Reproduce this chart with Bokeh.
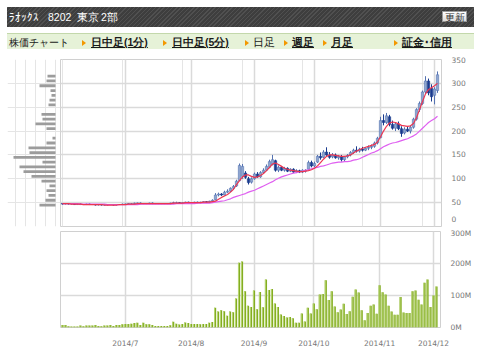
from bokeh.plotting import figure
from bokeh.layouts import column, row
from bokeh.models import Range1d, FixedTicker, Grid, ColumnDataSource, Div
from bokeh.transform import dodge
from bokeh.embed import file_html
from bokeh.resources import INLINE

# ---------------- data ----------------
title_parts = ["ﾗｵｯｸｽ", "8202", "東京", "2部"]
button_label = "更新"
nav_plain = "株価チャート"
nav_links = ["日中足(1分)", "日中足(5分)", "日足", "週足", "月足", "証金･信用"]
nav_active = [True, True, False, True, True, True]

# daily OHLC, 2014-06-02 .. 2014-12-02 (trading days)
open_ = [48,47,48,47,47,46,47,46,46,47,46,46,45,46,45,45,46,46,45,46,46,
         47,47,48,48,49,49,48,48,48,49,48,48,48,48,48,48,49,50,50,49,50,51,
         50,50,51,50,51,52,51,53,56,66,68,66,72,74,80,85,96,105,112,100,93,
         100,110,104,113,118,124,130,138,118,124,118,122,116,120,114,117,114,116,120,134,
         127,135,147,145,156,150,146,150,144,146,140,146,150,155,160,158,162,160,164,166,168,175,
         186,222,218,230,214,206,215,205,196,204,200,208,225,245,258,282,305,290,
         275,285]
high = [49,49,49,48,48,48,48,47,48,48,47,47,47,47,46,47,47,47,47,47,48,
        48,49,49,50,50,50,49,49,50,50,49,49,49,49,49,50,52,52,51,51,52,52,
        51,52,52,52,53,53,54,57,70,71,70,75,78,82,87,98,132,131,116,104,103,
        113,114,116,122,130,140,150,140,128,127,125,124,122,122,120,119,120,120,138,138,
        136,150,155,160,166,156,154,153,150,150,148,152,158,163,168,165,167,166,170,172,178,188,
        230,235,238,234,222,218,220,210,208,210,212,228,248,262,285,315,310,298,
        292,325]
low = [46,46,46,46,45,45,45,45,45,45,45,44,44,44,44,44,45,44,44,45,45,
       46,46,47,47,48,47,47,47,47,47,47,47,47,47,47,47,48,49,48,48,49,49,
       49,49,49,49,50,50,50,52,55,63,64,65,70,72,78,83,95,100,100,88,90,
       98,102,102,110,116,122,128,115,114,116,115,114,114,112,112,112,112,113,119,124,
       124,133,140,143,148,142,143,142,140,136,137,143,147,152,155,155,157,158,160,162,165,172,
       185,212,215,210,203,200,202,188,193,198,195,205,222,240,255,278,275,262,
       256,280]
close = [47,48,47,47,46,47,46,46,47,46,46,45,46,45,45,46,46,45,46,46,47,
         47,48,48,49,49,48,48,48,49,48,48,48,48,48,48,49,50,50,49,50,51,50,
         50,51,50,51,52,51,53,55,66,68,66,72,74,80,84,95,128,126,103,92,100,
         110,104,113,118,126,136,140,118,124,118,122,116,120,114,117,114,118,118,134,127,
         132,147,144,156,150,145,150,144,147,140,146,149,155,160,158,162,160,164,166,168,175,185,
         222,218,232,214,206,215,205,195,204,200,208,225,245,258,282,305,280,272,
         288,318]
# volume, millions of shares
volume = [8,8,4,3,3,3,6,4,6,6,6,8,5,4,6,6,8,5,8,8,10,
          11,11,12,14,15,8,15,10,10,8,5,5,5,5,5,7,18,12,9,11,16,14,
          11,11,11,10,11,11,15,17,62,50,54,51,37,50,48,91,202,206,113,68,64,
          116,57,111,63,150,117,120,75,64,41,36,31,33,29,15,15,44,19,62,44,
          75,57,103,105,148,86,113,66,48,56,74,42,51,96,119,109,54,23,45,68,72,43,
          132,110,103,68,50,40,40,95,47,45,45,113,116,87,72,140,150,64,
          100,128]
# moving averages (short = red, long = magenta)
ma_short = [48,48,48,47,47,47,47,46,46,46,46,46,46,46,45,45,45,45,45,46,46,
            46,47,47,47,48,48,48,48,48,48,48,48,48,48,48,48,49,49,49,49,50,50,
            50,50,50,50,51,51,51,52,53,57,61,64,67,72,78,88,96,104,108,108,105,
            103,104,107,111,117,124,131,133,130,126,122,120,118,117,116,115,115,116,117,119,
            122,127,134,141,147,150,150,149,148,147,147,148,150,154,158,161,164,166,168,170,172,177,
            188,200,210,217,219,218,215,212,211,210,211,216,228,245,262,278,287,291,
            295,300]
ma_long = [48,48,48,48,48,48,47,47,47,47,47,47,47,47,47,46,46,46,46,46,46,
           46,46,46,46,46,47,47,47,47,47,47,47,47,47,47,47,47,48,48,48,48,48,
           48,48,49,49,49,49,49,50,51,52,53,54,56,58,61,63,65,67,69,72,74,
           76,79,82,85,88,91,94,98,101,104,106,108,110,112,113,115,116,118,119,121,
           123,124,126,127,129,131,133,134,135,135,136,136,137,139,140,142,145,148,151,154,156,159,
           163,167,170,173,175,176,178,180,182,184,187,190,194,200,206,212,218,222,
           226,231]

month_idx = [21, 43, 64, 84, 106, 124]
month_labels = ["2014/7", "2014/8", "2014/9", "2014/10", "2014/11", "2014/12"]
price_ticks = [0, 50, 100, 150, 200, 250, 300, 350]
price_tick_labels = ["0", "50", "100", "150", "200", "250", "300", "350"]
vol_ticks = [0, 100, 200, 300]
vol_tick_labels = ["0M", "100M", "200M", "300M"]

# volume-by-price profile (price bin centre, relative volume)
profile_price = [45, 55, 65, 75, 85, 95, 105, 115, 125, 135, 145, 155, 165, 175,
                 185, 195, 205, 215, 225, 235, 245, 255, 265, 275, 285, 295, 305, 315]
profile_vol = [16, 10, 7, 9, 6, 14, 24, 32, 36, 13, 42, 26, 27, 9,
               3, 0, 9, 20, 13, 14, 0, 7, 6, 4, 5, 16, 9, 8]

# ---------------- styles ----------------
AXF = "DejaVu Sans"
GRID = "#dadada"
UP_FILL, UP_LINE = "#8fa6cf", "#5573b2"
DN_FILL, DN_LINE = "#1a3b8e", "#1a3b8e"
CJK_CSS = "font-family:'Noto Sans CJK JP',sans-serif;"

n = len(close)
day = list(range(n))
x_rng = Range1d(-0.67, 126.33)
py_rng = Range1d(0, 350)

# ---------------- header bar (HTML) ----------------
title_left = [2, 41, 70, 94]
spans = "".join(
    f"<span style='position:absolute;left:{l}px;top:0;line-height:20px;'>{t}</span>"
    for l, t in zip(title_left, title_parts))
hdr_html = (
    "<div style='position:relative;width:467px;height:20px;"
    "background-color:#434343;"
    "background-image:repeating-linear-gradient(135deg,#505050 0px,#505050 1px,#3e3e3e 1px,#3e3e3e 3px);"
    f"color:#ffffff;font-size:10.5px;{CJK_CSS}'>"
    + spans +
    "<div style='position:absolute;left:435px;top:4px;width:25px;height:11px;"
    "border:1px solid #9a9a9a;background:linear-gradient(#ffffff,#dcdcdc);"
    f"color:#333;font-size:10px;line-height:11px;text-align:center;'>{button_label}</div>"
    "</div>")
hdr = Div(text=hdr_html, width=467, height=26, margin=(0, 0, 0, 0))

# ---------------- navigation bar (HTML) ----------------
tri_left = [75, 156, 238, 277, 316, 387]
link_left = [84, 165, 246, 285, 324, 395]
parts = [f"<span style='position:absolute;left:2px;top:0;line-height:17px;font-size:10px;'>{nav_plain}</span>"]
for tl, ll, t, a in zip(tri_left, link_left, nav_links, nav_active):
    parts.append(
        f"<span style='position:absolute;left:{tl}px;top:6px;width:0;height:0;"
        "border-top:3px solid transparent;border-bottom:3px solid transparent;"
        "border-left:4px solid #f39800;'></span>")
    deco = "font-weight:bold;text-decoration:underline;" if a else ""
    parts.append(
        f"<span style='position:absolute;left:{ll}px;top:0;line-height:17px;{deco}'>{t}</span>")
nav_html = (
    "<div style='position:relative;width:467px;height:16px;background:#e6f2d8;"
    f"border-top:1.5px solid #c3d8ab;color:#1a1a1a;font-size:10.5px;{CJK_CSS}'>"
    + "".join(parts) + "</div>")
nav = Div(text=nav_html, width=467, height=22, margin=(0, 0, 0, 0))

# ---------------- volume-by-price profile ----------------
hist = figure(width=53, height=173, x_range=Range1d(48, -5), y_range=py_rng,
              x_axis_location=None, y_axis_location=None, toolbar_location=None,
              output_backend="svg", min_border_left=0, min_border_right=0,
              min_border_top=4, min_border_bottom=2)
hist.outline_line_color = None
hist.hbar(y=profile_price, left=0, right=profile_vol, height=5.8,
          fill_color="#9c9c9c", line_color=None)

# ---------------- price panel ----------------
price = figure(width=414, height=173, x_range=x_rng, y_range=py_rng,
               x_axis_location=None, y_axis_location="right", toolbar_location=None,
               output_backend="svg", min_border_left=0, min_border_right=33,
               min_border_top=4, min_border_bottom=2)
price.outline_line_color = "#d0d0d0"
price.yaxis.ticker = FixedTicker(ticks=price_ticks)
ovr = dict(zip(price_ticks, price_tick_labels))
ovr[0] = price_tick_labels[0] + "\n "   # lift the bottom label slightly so it is not clipped
price.yaxis.major_label_overrides = ovr
price.yaxis.major_label_text_line_height = 0.45
price.yaxis.axis_line_color = None
price.yaxis.major_tick_line_color = None
price.yaxis.minor_tick_line_color = None
price.yaxis.major_label_standoff = 4
price.yaxis.major_label_text_font = AXF
price.yaxis.major_label_text_font_size = "7.5px"
price.yaxis.major_label_text_color = "#777777"
price.ygrid.grid_line_color = GRID
price.ygrid.grid_line_width = 1.5
price.add_layout(Grid(dimension=0, ticker=FixedTicker(ticks=month_idx),
                      grid_line_color=GRID, grid_line_width=1.5))

up = [c >= o for o, c in zip(open_, close)]
def sel(flag):
    idx = [i for i in day if up[i] == flag]
    return ColumnDataSource(dict(
        x=idx,
        hi=[high[i] for i in idx], lo=[low[i] for i in idx],
        top=[max(open_[i], close[i]) for i in idx],
        bot=[min(open_[i], close[i]) for i in idx]))
src_up, src_dn = sel(True), sel(False)
price.segment(x0="x", y0="lo", x1="x", y1="hi", source=src_up, line_color=UP_LINE, line_width=1)
price.segment(x0="x", y0="lo", x1="x", y1="hi", source=src_dn, line_color=DN_LINE, line_width=1)
price.vbar(x="x", width=0.78, top="top", bottom="bot", source=src_up,
           fill_color=UP_FILL, line_color=UP_LINE, line_width=0.6)
price.vbar(x="x", width=0.78, top="top", bottom="bot", source=src_dn,
           fill_color=DN_FILL, line_color=DN_LINE, line_width=0.6)
price.line(day, ma_long, line_color="#df5ff0", line_width=1.2)
price.line(day, ma_short, line_color="#ec3550", line_width=1.2)

# ---------------- volume panel ----------------
vol = figure(width=467, height=122, x_range=x_rng, y_range=Range1d(0, 300),
             y_axis_location="right", toolbar_location=None, output_backend="svg",
             min_border_left=53, min_border_right=33, min_border_top=3, min_border_bottom=19)
vol.outline_line_color = "#d0d0d0"
for ax in (vol.xaxis, vol.yaxis):
    ax.axis_line_color = None
    ax.major_tick_line_color = None
    ax.minor_tick_line_color = None
    ax.major_label_text_font = AXF
    ax.major_label_text_font_size = "7.5px"
    ax.major_label_text_color = "#777777"
vol.xaxis.ticker = FixedTicker(ticks=month_idx)
vol.xaxis.major_label_overrides = dict(zip(month_idx, month_labels))
vol.xaxis.major_label_standoff = 5
vol.yaxis.ticker = FixedTicker(ticks=vol_ticks)
vol.yaxis.major_label_overrides = dict(zip(vol_ticks, vol_tick_labels))
vol.yaxis.major_label_standoff = 4
vol.xgrid.grid_line_color = GRID
vol.xgrid.grid_line_width = 1.5
vol.ygrid.grid_line_color = GRID
vol.ygrid.grid_line_width = 1.5
vsrc = ColumnDataSource(dict(x=day, v=volume))
vol.vbar(x="x", width=0.72, top="v", bottom=0, source=vsrc,
         fill_color="#84ad22", line_color=None)
vol.vbar(x=dodge("x", -0.2, range=vol.x_range), width=0.3, top="v", bottom=0, source=vsrc,
         fill_color="#bcd97a", line_color=None)

layout = column(hdr, nav, row(hist, price), vol, margin=(7, 0, 0, 7))
open("out.html", "w").write(file_html(layout, INLINE))
